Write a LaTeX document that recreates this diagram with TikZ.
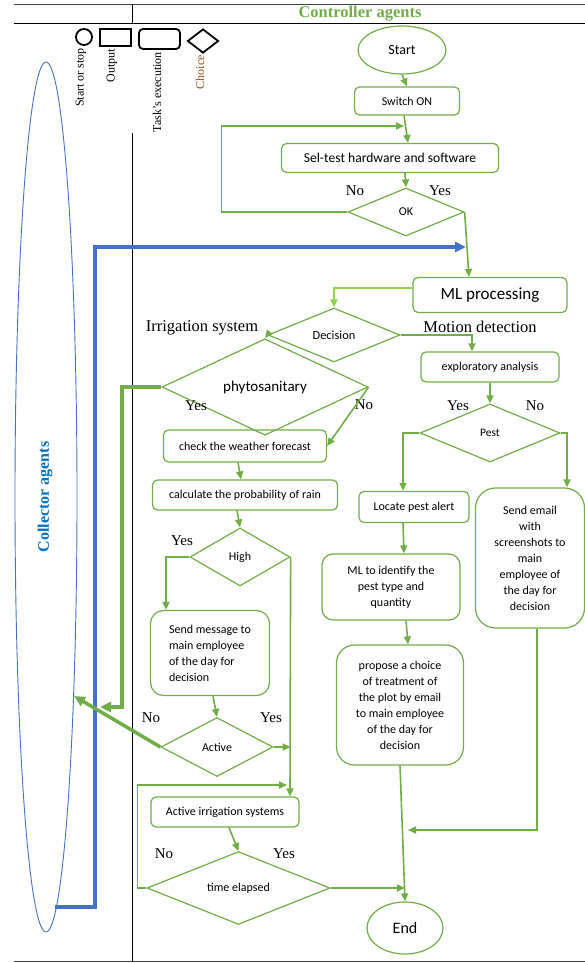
\documentclass[tikz,border=0pt]{standalone}
\usepackage{fontspec}
\setmainfont{Liberation Serif}
\newfontfamily\boxfont{Carlito}
\usetikzlibrary{shapes.geometric,arrows.meta}

\definecolor{leaf}{RGB}{112,173,71}
\definecolor{lightleaf}{RGB}{146,208,80}
\definecolor{sky}{RGB}{68,114,196}
\definecolor{ink}{RGB}{0,112,192}
\definecolor{choicecol}{RGB}{150,80,20}

\tikzstyle{task}=[draw=leaf,line width=1.2pt,rounded corners=5pt,inner sep=0pt,align=center,font=\boxfont\fontsize{12}{16}\selectfont]
\tikzstyle{choice}=[draw=leaf,line width=1.2pt,diamond,inner sep=0pt,font=\boxfont\fontsize{12}{14}\selectfont]
\tikzstyle{terminal}=[draw=leaf,line width=1.2pt,ellipse,inner sep=0pt,font=\boxfont\fontsize{14}{16}\selectfont]
\tikzstyle{flow}=[draw=leaf,line width=1.6pt,-{Triangle[length=8pt,width=7pt]}]
\tikzstyle{heavyflow}=[draw=leaf,line width=3.5pt,-{Triangle[length=11pt,width=10pt]}]
\tikzstyle{answer}=[inner sep=0pt,font=\fontsize{15}{17}\selectfont]
\tikzstyle{keyshape}=[draw,line width=1.8pt,inner sep=0pt]
\tikzstyle{keytext}=[rotate=90,anchor=east,inner sep=0pt,font=\fontsize{12}{14}\selectfont]

\begin{document}
\begin{tikzpicture}[x=1pt,y=-1pt]
    \useasboundingbox (0,0) rectangle (585,963);
    %Frame
    \draw[line width=0.6pt,black!75] (14,4.5) -- (585,4.5);
    \draw[line width=1pt] (14,24) -- (585,24);
    \draw[line width=0.6pt] (132,4.5) -- (132,24);
    \draw[line width=0.6pt] (132,133) -- (132,961);
    \draw[line width=0.8pt,black!75] (14,961.5) -- (585,961.5);
    \node[font=\bfseries\fontsize{16.5}{18}\selectfont,text=leaf] (ctrl) at (360,14) {Controller agents};

    %Legend
    \node[keyshape,circle,minimum size=16pt] (keystop) at (84,37) {};
    \node[keyshape,minimum width=31pt,minimum height=17pt] (keyout) at (115.5,37.5) {};
    \node[keyshape,rounded corners=4pt,minimum width=41pt,minimum height=20pt] (keytask) at (159.5,39) {};
    \node[keyshape,diamond,minimum width=31pt,minimum height=24pt] (keychoice) at (203,41) {};
    \node[keytext] (keystoptxt) at (81,48) {Start or stop};
    \node[keytext] (keyouttxt) at (112,49) {Output};
    \node[keytext] (keytasktxt) at (157,52) {Task's execution};
    \node[keytext,text=choicecol] (keychoicetxt) at (200,55) {Choice};

    %Collector agents
    \node[draw=sky,ellipse,line width=0.9pt,minimum width=62pt,minimum height=870pt,inner sep=0pt] (coll) at (46,497) {};
    \node[rotate=90,text=ink,font=\bfseries\fontsize{16}{18}\selectfont] (colltxt) at (45,497) {Collector agents};

    %Terminal nodes
    \node[terminal,minimum width=88pt,minimum height=48pt] (start) at (402,50) {Start};
    \node[terminal,minimum width=76pt,minimum height=52pt,font=\boxfont\fontsize{16}{18}\selectfont] (stop) at (405,928) {End};

    %Task nodes
    \node[task,minimum width=105pt,minimum height=28pt] (switch) at (407,101) {Switch ON};
    \node[task,minimum width=217pt,minimum height=29pt,font=\boxfont\fontsize{13.6}{16}\selectfont] (selftest) at (390,158) {Sel-test hardware and software};
    \node[task,minimum width=154pt,minimum height=35pt,font=\boxfont\fontsize{17}{19}\selectfont] (ml) at (490,295) {ML processing};
    \node[task,minimum width=163pt,minimum height=32pt] (weather) at (245,446) {check the weather forecast};
    \node[task,minimum width=185pt,minimum height=30pt] (rain) at (245,495) {calculate the probability of rain};
    \node[task,rounded corners=13pt,minimum width=119pt,minimum height=85pt,align=left] (msg) at (210,653) {Send message to\\main employee\\of the day for\\decision};
    \node[task,minimum width=148pt,minimum height=30pt] (irr) at (225,812) {Active irrigation systems};
    \node[task,minimum width=138pt,minimum height=30pt] (expl) at (490,367) {exploratory analysis};
    \node[task,minimum width=110pt,minimum height=31pt] (locate) at (414,507) {Locate pest alert};
    \node[task,rounded corners=11pt,minimum width=138pt,minimum height=66pt] (mlid) at (391,587) {ML to identify the\\pest type and\\quantity};
    \node[task,rounded corners=18pt,minimum width=127pt,minimum height=120pt] (prop) at (400,705) {propose a choice\\of treatment of\\the plot by email\\to main employee\\of the day for\\decision};
    \node[task,rounded corners=20pt,minimum width=109pt,minimum height=140pt] (email) at (530,558) {Send email\\with\\screenshots to\\main\\employee of\\the day for\\decision};

    %Choice nodes
    \node[choice,minimum width=116pt,minimum height=48pt] (ok) at (406,212) {OK};
    \node[choice,minimum width=132pt,minimum height=54pt,font=\boxfont\fontsize{12.4}{14}\selectfont] (dec) at (334,335) {Decision};
    \node[choice,minimum width=206pt,minimum height=65pt,font=\boxfont\fontsize{15}{17}\selectfont] (phyto) at (265,387) {phytosanitary};
    \node[choice,minimum width=100pt,minimum height=58pt] (high) at (240,557) {High};
    \node[choice,minimum width=112pt,minimum height=59pt] (act) at (217,747) {Active};
    \node[choice,minimum width=183pt,minimum height=54pt] (elapsed) at (238.5,888) {time elapsed};
    \node[choice,minimum width=140pt,minimum height=58pt,font=\boxfont\fontsize{11.5}{14}\selectfont] (pest) at (490,433) {Pest};

    %Answers and branch titles
    \foreach \pos/\txt [count=\i] in {{(355,191)/No}, {(440,191)/Yes}, {(196,406)/Yes}, {(364,405)/No},
                             {(182,541)/Yes}, {(151,718)/No}, {(271,718)/Yes}, {(164,854)/No},
                             {(284,854)/Yes}, {(458,406)/Yes}, {(535,406)/No}}
    \node[answer] (ans\i) at \pos {\txt};
    \node[answer,font=\fontsize{16.5}{18}\selectfont] (irrtitle) at (202,328) {Irrigation system};
    \node[answer,font=\fontsize{16.5}{18}\selectfont] (mottitle) at (480,327) {Motion detection};

    %Free ends
    \coordinate (loopin) at (404,126);
    \coordinate (bluefoot) at (55,907);
    \coordinate (bluein) at (466,247);
    \coordinate (collin) at (100,707);
    \coordinate (irrloop) at (287,785);
    \coordinate (emailin) at (408,830);

    %Main line
    \draw[flow] (start.south) -- (switch.north);
    \draw[flow] ([xshift=-3pt]switch.south) -- ([xshift=18pt]selftest.north);
    \draw[flow] ([xshift=15pt]selftest.south) -- (ok.north);
    \draw[flow] (ok.west) -- ++(-126,0) |- (loopin);
    \draw[flow] (ok.east) -- ([xshift=-21pt]ml.north);
    \draw[sky,line width=3.5pt,-{Triangle[length=11pt,width=10pt]}] (bluefoot) -- (95,907) |- (bluein);
    \draw[flow,lightleaf] ([yshift=7pt]ml.west) -| (dec.north);

    %Irrigation branch
    \draw[flow] (dec.west) -- (phyto.north);
    \draw[heavyflow] (phyto.west) -| (122,707) -- (collin);
    \draw[flow] (phyto.east) -- (weather.east);
    \draw[flow] ([xshift=-7pt]weather.south) -- ([xshift=-4pt]rain.north);
    \draw[flow] ([xshift=-8pt]rain.south) -- (high.north);
    \draw[flow] (high.west) -| ([xshift=-44pt]msg.north);
    \draw[flow] (high.east) -- ([xshift=65pt]irr.north);
    \draw[flow] ([xshift=3pt]msg.south) -- (act.north);
    \draw[flow] (act.east) -- (act.east -| high.east);
    \draw[heavyflow] (act.west) -- (coll.-82);
    \draw[flow] ([xshift=4pt]irr.south) -- (elapsed.north);
    \draw[flow] (elapsed.west) -- ++(-9,0) |- (irrloop);
    \draw[flow] (elapsed.east) -- (elapsed.east -| stop.north);

    %Motion branch
    \draw[flow] (dec.east) -| ([xshift=-18pt]expl.north);
    \draw[flow] (expl.south) -- (pest.north);
    \draw[flow] (pest.west) -| ([xshift=-11pt]locate.north);
    \draw[flow] (pest.east) -| ([xshift=37pt]email.north);
    \draw[flow] ([xshift=-11pt]locate.south) -- ([xshift=13pt]mlid.north);
    \draw[flow] ([xshift=15pt]mlid.south) -- ([xshift=8pt]prop.north);
    \draw[flow] (prop.south) -- (stop.north);
    \draw[flow] ([xshift=7pt]email.south) |- (emailin);
\end{tikzpicture}
\end{document}
